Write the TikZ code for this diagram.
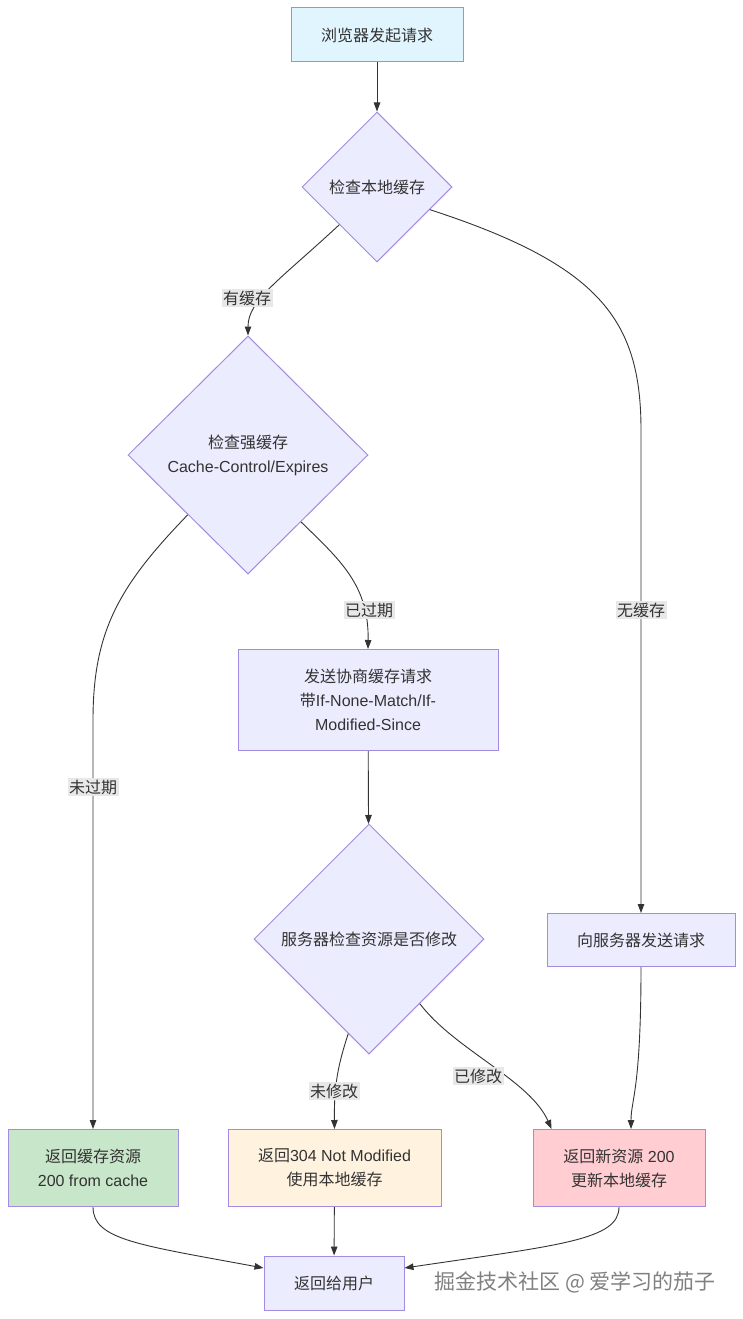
\documentclass[tikz,border=0pt]{standalone}
\usepackage{fontspec}
\setmainfont{Liberation Sans}
\newfontfamily\cjk{Noto Sans CJK SC}
\usetikzlibrary{shapes.geometric,arrows.meta,calc}
\definecolor{strokeP}{HTML}{A28BE0}
\definecolor{fillN}{HTML}{ECECFF}
\definecolor{fillStart}{HTML}{E1F5FE}
\definecolor{fillG}{HTML}{C8E6C9}
\definecolor{fillO}{HTML}{FFF3E0}
\definecolor{fillP}{HTML}{FFCDD2}
\definecolor{edgeC}{HTML}{333333}
\definecolor{lblbg}{HTML}{E8E8E8}
\definecolor{txt}{HTML}{333333}
\definecolor{wm}{HTML}{808080}
\tikzset{
  box/.style={rectangle, draw=strokeP, fill=fillN, line width=1pt, text=txt, align=center, inner sep=0pt, font=\fontsize{16}{24}\selectfont},
  dia/.style={diamond, draw=strokeP, fill=fillN, line width=1pt, aspect=1, inner sep=0pt, align=center, text=txt, font=\fontsize{16}{24}\selectfont},
  edge/.style={draw=edgeC, line width=0.9pt, -{Triangle[length=9pt,width=6.5pt]}},
  elabel/.style={fill=lblbg, inner sep=1.5pt, text=txt, font=\cjk\fontsize{16}{20}\selectfont},
}
\begin{document}
\begin{tikzpicture}[x=1pt,y=-1pt]
\fill[white] (0,0) rectangle (743,1319);
\useasboundingbox (0,0) rectangle (743,1319);

\node[box, fill=fillStart, minimum width=172pt, minimum height=54pt] (start) at (377,35) {{\cjk 浏览器发起请求}};
\node[dia, minimum width=150pt, minimum height=150pt] (d1) at (377,187) {{\cjk 检查本地缓存}};
\node[dia, minimum width=240pt, minimum height=238pt] (d2) at (248,455) {{\cjk 检查强缓存}\\Cache-Control/Expires};
\node[box, minimum width=260pt, minimum height=101pt] (neg) at (368,700) {{\cjk 发送协商缓存请求}\\{\cjk 带}If-None-Match/If-\\Modified-Since};
\node[dia, minimum width=230pt, minimum height=230pt] (d3) at (369,939) {{\cjk 服务器检查资源是否修改}};
\node[box, minimum width=188pt, minimum height=53pt] (srv) at (641,940) {{\cjk 向服务器发送请求}};
\node[box, fill=fillG, minimum width=170pt, minimum height=77pt] (green) at (93,1168) {{\cjk 返回缓存资源}\\200 from cache};
\node[box, fill=fillO, minimum width=213pt, minimum height=77pt] (orange) at (334.5,1168) {{\cjk 返回}304 Not Modified\\{\cjk 使用本地缓存}};
\node[box, fill=fillP, minimum width=172pt, minimum height=77pt] (pink) at (619,1168) {{\cjk 返回新资源} 200\\{\cjk 更新本地缓存}};
\node[box, minimum width=140pt, minimum height=54pt] (final) at (334,1283) {{\cjk 返回给用户}};

\draw[edge] (start) -- (d1);
\draw[edge] (d1.south west) .. controls (280,280) and (248,300) .. (d2.north);
\draw[edge] ($(d1.east)!0.3!(d1.south)$) .. controls (600,265) and (641,320) .. (641,430) -- (srv.north);
\draw[edge] (d2.south west) .. controls (120,585) and (93,630) .. (93,720) -- (green.north);
\draw[edge] ($(d2.east)!0.56!(d2.south)$) .. controls (340,560) and (369,585) .. (neg.north);
\draw[edge] (neg) -- (d3);
\draw[edge] ($(d3.west)!0.82!(d3.south)$) .. controls (338,1065) and (334,1085) .. (orange.north);
\draw[edge] ($(d3.east)!0.56!(d3.south)$) .. controls (455,1050) and (530,1080) .. ($(pink.north west)!0.11!(pink.north east)$);
\draw[edge] (srv.south) .. controls (641,1090) and (631,1100) .. ($(pink.north)+(12,0)$);
\draw[edge] (orange) -- (final);
\draw[edge] (green.south) .. controls (93,1240) and (140,1245) .. ($(final.west)+(0,-15)$);
\draw[edge] (pink.south) .. controls (619,1240) and (560,1245) .. ($(final.east)+(0,-15)$);

\node[elabel] (l1) at (247,298) {有缓存};
\node[elabel] (l2) at (641,610) {无缓存};
\node[elabel] (l3) at (369,610) {已过期};
\node[elabel] (l4) at (93,787) {未过期};
\node[elabel] (l5) at (334,1091) {未修改};
\node[elabel] (l6) at (478,1076) {已修改};

\node[text=wm, font=\cjk\fontsize{21}{24}\selectfont, inner sep=0pt] (wmk) at (575,1282) {掘金技术社区 @ 爱学习的茄子};
\end{tikzpicture}
\end{document}
